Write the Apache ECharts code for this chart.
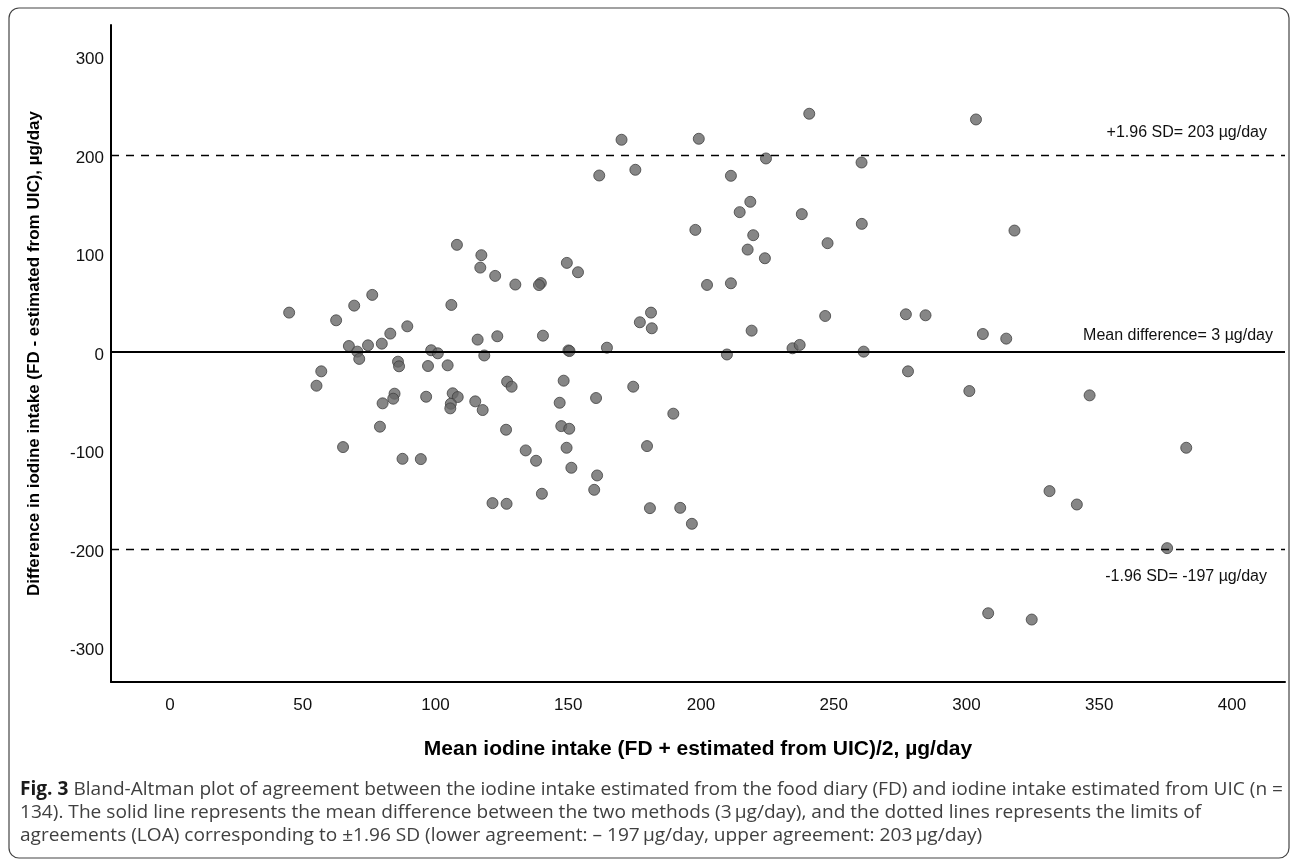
<!DOCTYPE html>
<html>
<head>
<meta charset="utf-8">
<script src="https://cdn.jsdelivr.net/npm/echarts@6/dist/echarts.min.js"></script>
<style>
  html, body { margin: 0; padding: 0; background: #fff; }
  #chart { width: 1292px; height: 862px; }
</style>
</head>
<body>
<div id="chart"></div>
<script>
// mean of the two methods (x) and their difference (y)
let meanIntake = [
  44.9, 62.6, 69.4, 76.2, 67.4, 70.6, 71.3, 74.6, 79.8, 83.0,
  89.4, 98.4, 100.9, 106.0, 108.1, 117.3, 116.9, 122.5, 130.1, 115.9,
  123.3, 118.4, 85.9, 86.3, 57.0, 55.2, 97.2, 104.6, 84.6, 84.1,
  80.1, 96.5, 106.5, 108.4, 105.8, 105.6, 115.0, 117.8, 127.0, 128.7,
  126.6, 79.1, 65.2, 87.6, 94.5, 121.5, 126.8,
  139.7, 139.0, 149.5, 153.7, 161.7, 170.1, 175.3, 199.2, 211.3, 218.6,
  214.6, 197.9, 219.7, 217.6, 224.1, 224.5, 202.3, 211.3, 181.2, 177.0,
  181.5, 140.5, 150.1, 150.5, 164.6, 209.8, 219.1, 148.3, 146.8, 160.5,
  174.5, 189.6, 147.4, 150.4, 134.0, 137.9, 149.4, 151.2, 179.7, 160.9,
  159.8, 140.1, 180.8, 192.2, 196.6,
  240.8, 303.6, 260.5, 238.0, 260.6, 247.7, 318.1, 246.8, 277.2, 284.6,
  306.2, 315.0, 234.5, 237.2, 261.3, 278.0, 301.1, 308.2, 346.4, 382.8,
  331.3, 341.6, 375.6, 324.6
]
let difference = [
  43.0, 35.2, 50.1, 61.0, 9.1, 3.4, -4.0, 9.8, 11.5, 21.7,
  29.1, 4.8, 1.7, 50.8, 111.8, 101.3, 88.7, 80.3, 71.5, 15.6,
  19.0, -0.5, -6.8, -11.5, -16.6, -31.2, -11.2, -10.5, -39.3, -44.4,
  -49.1, -42.4, -38.9, -42.7, -49.5, -54.2, -47.1, -55.9, -27.1, -32.2,
  -75.9, -72.8, -93.5, -105.4, -105.7, -150.4, -151.1,
  73.0, 71.0, 93.5, 84.0, 182.2, 218.5, 188.0, 219.5, 181.9, 155.5,
  145.0, 127.0, 121.6, 107.0, 98.2, 199.5, 71.1, 72.8, 43.0, 33.2,
  27.1, 19.6, 4.6, 4.0, 7.4, 0.5, 24.7, -26.1, -48.5, -43.7,
  -32.2, -59.6, -72.2, -74.9, -96.9, -107.4, -94.2, -114.5, -92.5, -122.3,
  -136.9, -140.9, -155.5, -155.2, -171.4,
  244.9, 239.1, 195.4, 143.0, 133.1, 113.5, 126.3, 39.6, 41.3, 40.3,
  21.3, 16.6, 6.8, 10.2, 3.4, -16.6, -36.6, -262.2, -41.0, -94.2,
  -138.2, -151.8, -196.1, -268.6
]
let xTicks = [0, 50, 100, 150, 200, 250, 300, 350, 400]
let yTicks = [-300, -200, -100, 0, 100, 200, 300]
let meanDiff = 3
let upperLoa = 203
let lowerLoa = -197

let captionLines = [
  "Bland-Altman plot of agreement between the iodine intake estimated from the food diary (FD) and iodine intake estimated from UIC (n =",
  "134). The solid line represents the mean difference between the two methods (3\u2009µg/day), and the dotted lines represents the limits of",
  "agreements (LOA) corresponding to ±1.96 SD (lower agreement: \u2013 197\u2009µg/day, upper agreement: 203\u2009µg/day)"
]

let points = []
for (let i = 0; i < meanIntake.length; i++) {
  points.push([meanIntake[i], difference[i]])
}

let font = "'Liberation Sans', Arial, sans-serif"
let capFont = "'Open Sans', sans-serif"
let capSize = 19

// caption is set in a condensed face in the original: squeeze it to the same width
let ctx = document.createElement("canvas").getContext("2d")
ctx.font = "bold " + capSize + "px " + capFont
let w1 = ctx.measureText("Fig. 3 ").width
ctx.font = capSize + "px " + capFont
w1 += ctx.measureText(captionLines[0]).width
let squeeze = 1263 / w1

let myChart = echarts.init(document.getElementById("chart"))

let option = {
  animation: false,
  grid: { left: 111, top: 25, right: 7, bottom: 180 },
  xAxis: {
    type: "value",
    min: -22.2,
    max: 420,
    name: "Mean iodine intake (FD + estimated from UIC)/2, µg/day",
    nameLocation: "middle",
    nameGap: 57,
    nameTextStyle: { fontFamily: font, fontWeight: "bold", fontSize: 21, color: "#000" },
    axisLine: { show: true, onZero: false, lineStyle: { color: "#000", width: 2 } },
    axisTick: { show: false },
    splitLine: { show: false },
    axisLabel: {
      customValues: xTicks,
      margin: 15,
      fontFamily: font, fontSize: 17, color: "#111"
    }
  },
  yAxis: {
    type: "value",
    min: -332,
    max: 335,
    name: "Difference in iodine intake (FD - estimated from UIC), µg/day",
    nameLocation: "middle",
    nameGap: 68,
    nameTextStyle: { fontFamily: font, fontWeight: "bold", fontSize: 17, color: "#000" },
    axisLine: { show: true, onZero: false, lineStyle: { color: "#000", width: 2 } },
    axisTick: { show: false },
    splitLine: { show: false },
    axisLabel: {
      customValues: yTicks,
      margin: 7,
      fontFamily: font, fontSize: 17, color: "#111"
    }
  },
  series: [{
    type: "scatter",
    data: points,
    symbolSize: 11,
    itemStyle: { color: "#686868", borderColor: "#404040", borderWidth: 1 },
    markLine: {
      silent: true,
      symbol: "none",
      animation: false,
      label: { fontFamily: font, fontSize: 16, color: "#111" },
      data: [
        {
          yAxis: meanDiff,
          lineStyle: { type: "solid", color: "#000", width: 1.8 },
          label: { formatter: "Mean difference= 3 µg/day", position: "insideEndTop", distance: [12, 8] }
        },
        {
          yAxis: upperLoa,
          lineStyle: { type: [8, 7], color: "#000", width: 1.3 },
          label: { formatter: "+1.96 SD= 203 µg/day", position: "insideEndTop", distance: [18, 14] }
        },
        {
          yAxis: lowerLoa,
          lineStyle: { type: [8, 7], color: "#000", width: 1.3 },
          label: { formatter: "-1.96 SD= -197 µg/day", position: "insideEndBottom", distance: [18, 20] }
        }
      ]
    }
  }],
  graphic: [
    {
      type: "rect",
      shape: { x: 9, y: 8, width: 1280, height: 850, r: 10 },
      style: { fill: "none", stroke: "#444", lineWidth: 1.2 },
      silent: true
    },
    {
      type: "text",
      x: 20, y: 790, scaleX: squeeze,
      style: {
        text: "{b|Fig. 3} " + captionLines[0],
        rich: { b: { fontFamily: capFont, fontWeight: "bold", fontSize: capSize, fill: "#1a1a1a", verticalAlign: "middle" } },
        fontFamily: capFont, fontSize: capSize, fill: "#404040", verticalAlign: "middle"
      }
    },
    {
      type: "text",
      x: 20, y: 813, scaleX: squeeze,
      style: { text: captionLines[1], fontFamily: capFont, fontSize: capSize, fill: "#404040", verticalAlign: "middle" }
    },
    {
      type: "text",
      x: 20, y: 836, scaleX: squeeze,
      style: { text: captionLines[2], fontFamily: capFont, fontSize: capSize, fill: "#404040", verticalAlign: "middle" }
    }
  ]
}

myChart.setOption(option)
</script>
</body>
</html>
